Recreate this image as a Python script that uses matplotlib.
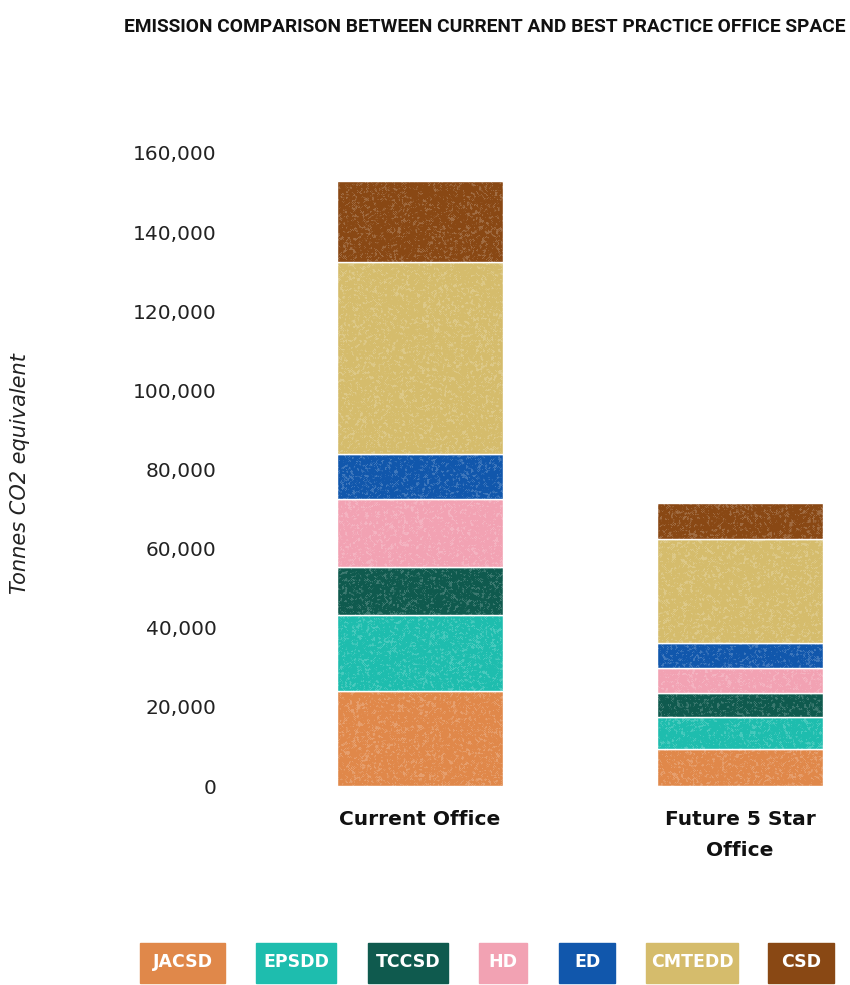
import matplotlib
matplotlib.use("Agg")
import matplotlib.pyplot as plt
from matplotlib import font_manager
from matplotlib.patches import Rectangle
import numpy as np

# ---- data -------------------------------------------------------------
scenarios = ["Current Office", "Future 5 Star\nOffice"]
directorates = ["JACSD", "EPSDD", "TCCSD", "HD", "ED", "CMTEDD", "CSD"]
current_office = [24000, 19200, 12200, 17200, 11300, 48600, 20400]
future_office = [9350, 8100, 6100, 6300, 6300, 26300, 9100]
y_ticks = [0, 20000, 40000, 60000, 80000, 100000, 120000, 140000, 160000]

colors = ["#E0884A", "#1EBDAE", "#0F5A4E", "#F2A2B3",
          "#1157AC", "#D5BC6C", "#894814"]

title = "EMISSION COMPARISON BETWEEN CURRENT AND BEST PRACTICE OFFICE SPACE"
y_label = "Tonnes CO2 equivalent"

# ---- fonts ------------------------------------------------------------
installed = {f.name for f in font_manager.fontManager.ttflist}


def pick(*names):
    for n in names:
        if n in installed:
            return n
    return "DejaVu Sans"


body = "DejaVu Sans"
title_family = pick("Roboto", "Liberation Sans", "DejaVu Sans")

# ---- figure -----------------------------------------------------------
W, H = 850, 985
fig = plt.figure(figsize=(W / 100, H / 100), dpi=100)

ax_left, ax_right = 240, 850
y0_px, ytop_px = 786, 133.2
ax = fig.add_axes([ax_left / W, (H - y0_px) / H,
                   (ax_right - ax_left) / W, (y0_px - ytop_px) / H])

x = np.arange(len(scenarios))
bar_w = 0.52
bottoms = np.zeros(len(scenarios))
containers = []
for i, name in enumerate(directorates):
    vals = np.array([current_office[i], future_office[i]])
    bc = ax.bar(x, vals, bottom=bottoms, width=bar_w, color=colors[i],
                edgecolor="white", linewidth=1.0, label=name)
    containers.append(bc)
    bottoms += vals

xlim = (-(420 - ax_left) / 320, 1 + (ax_right - 740) / 320)
ylim = (0, 165000)
ax.set_xlim(*xlim)
ax.set_ylim(*ylim)

# fine chalky grain laid over each block, one grain cell per pixel
grain_rng = np.random.default_rng(7)
for bc in containers:
    for patch in bc.patches:
        px0, py0 = patch.get_x(), patch.get_y()
        px1, py1 = px0 + patch.get_width(), py0 + patch.get_height()
        (a0, b0), (a1, b1) = ax.transData.transform([(px0, py0), (px1, py1)])
        nw, nh = max(int(round(a1 - a0)), 2), max(int(round(b1 - b0)), 2)
        g = grain_rng.random((nh, nw))
        g = (g + np.roll(g, 1, 0) + np.roll(g, 1, 1)
             + np.roll(g, -1, 0) + np.roll(g, -1, 1)) / 5.0
        alpha = np.clip((g - 0.56) * 1.6, 0, 0.2)
        rgba = np.ones((nh, nw, 4))
        rgba[..., 3] = alpha
        im = ax.imshow(rgba, extent=(px0, px1, py0, py1), aspect="auto",
                       interpolation="nearest", zorder=2.5)
        im.set_clip_path(patch)
ax.set_xlim(*xlim)
ax.set_ylim(*ylim)
ax.set_aspect("auto")

ax.set_yticks(y_ticks)
ax.set_yticklabels([f"{v:,}" for v in y_ticks], fontsize=14.5,
                   color="#222222", family=body)
ax.set_xticks(x)
ax.set_xticklabels(scenarios, fontsize=14.5, fontweight="bold",
                   family=body, color="#111111", linespacing=1.85)
ax.tick_params(axis="y", length=0, pad=17)
ax.tick_params(axis="x", length=0, pad=17)
for s in ax.spines.values():
    s.set_visible(False)

# ---- axis title ---------------------------------------------------------
fig.text(20 / W, 1 - 474 / H, y_label, rotation=90, ha="center",
         va="center", fontsize=15, style="italic", color="#222222",
         family=body)

# ---- chart title, sized to span its line ---------------------------------
t = fig.text(845 / W, 1 - 27 / H, title, ha="right", va="center",
             fontsize=16, fontweight="bold", family=title_family,
             color="#111111")
fig.canvas.draw()
r = fig.canvas.get_renderer()
bb = t.get_window_extent(r)
t.set_fontsize(16 * 725 / bb.width)

# ---- legend swatches -----------------------------------------------------
swatch_left = [140, 256, 368, 479, 559, 646, 768]
swatch_w = [85, 80, 80, 48, 56, 92, 66]
for name, c, lx, w in zip(directorates, colors, swatch_left, swatch_w):
    fig.patches.append(Rectangle((lx / W, 2 / H), w / W, 40 / H,
                                 transform=fig.transFigure, color=c,
                                 zorder=1))
    fig.text((lx + w / 2) / W, 23 / H, name, ha="center", va="center",
             color="white", fontsize=12.5, fontweight="bold",
             family=body, zorder=2)

fig.savefig("out.png", dpi=100)
